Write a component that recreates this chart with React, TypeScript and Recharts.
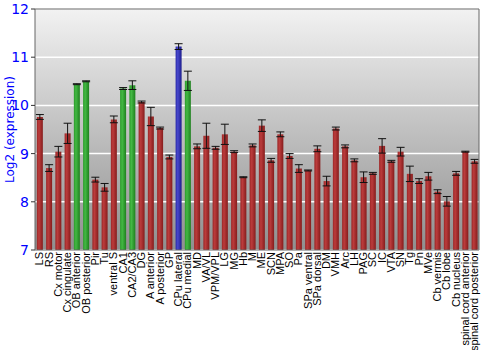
import { BarChart, Bar, XAxis, YAxis, CartesianGrid, ErrorBar, Cell, ReferenceLine } from 'recharts';

const regions = [
  'LS', 'RS', 'Cx motor', 'Cx cingulate', 'OB anterior', 'OB posterior', 'Pir', 'Tu',
  'ventral S', 'CA1', 'CA2/CA3', 'DG', 'A anterior', 'A posterior', 'GP', 'CPu lateral',
  'CPu medial', 'MD', 'VA/VL', 'VPM/VPL', 'LG', 'MG', 'Hb', 'M', 'ME', 'SCN', 'MPA', 'SO',
  'Pa', 'SPa ventral', 'SPa dorsal', 'DM', 'VMH', 'Arc', 'LH', 'PAG', 'SC', 'IC', 'VTA',
  'SN', 'Tg', 'Pn', 'MVe', 'Cb vermis', 'Cb lobe', 'Cb nucleus', 'spinal cord anterior',
  'spinal cord posterior',
];

const expression = [
  9.76, 8.70, 9.04, 9.42, 10.44, 10.50, 8.46, 8.30, 9.71, 10.35, 10.42, 10.07, 9.77, 9.53,
  8.93, 11.22, 10.51, 9.15, 9.37, 9.12, 9.40, 9.04, 8.51, 9.17, 9.58, 8.86, 9.40, 8.95,
  8.69, 8.65, 9.10, 8.43, 9.52, 9.15, 8.86, 8.51, 8.59, 9.16, 8.84, 9.04, 8.58, 8.43,
  8.53, 8.21, 8.01, 8.59, 9.04, 8.84,
];

const stdErr = [
  0.05, 0.07, 0.11, 0.21, 0.01, 0.01, 0.05, 0.08, 0.07, 0.02, 0.09, 0.02, 0.19, 0.02,
  0.04, 0.06, 0.2, 0.05, 0.26, 0.03, 0.21, 0.02, 0.01, 0.03, 0.12, 0.04, 0.05, 0.05,
  0.08, 0.01, 0.06, 0.1, 0.03, 0.03, 0.03, 0.11, 0.02, 0.15, 0.02, 0.09, 0.16, 0.05,
  0.08, 0.04, 0.1, 0.04, 0.01, 0.04,
];

// group per region: r = red, g = green, b = blue
const groups = [
  'r', 'r', 'r', 'r', 'g', 'g', 'r', 'r', 'r', 'g', 'g', 'r', 'r', 'r', 'r', 'b',
  'g', 'r', 'r', 'r', 'r', 'r', 'r', 'r', 'r', 'r', 'r', 'r', 'r', 'r', 'r', 'r',
  'r', 'r', 'r', 'r', 'r', 'r', 'r', 'r', 'r', 'r', 'r', 'r', 'r', 'r', 'r', 'r',
];

const yTicks = [7, 8, 9, 10, 11, 12];

const data = regions.map((name, i) => ({
  name,
  value: expression[i],
  err: stdErr[i],
  group: groups[i],
}));

const fills: Record<string, string> = { r: 'url(#barRed)', g: 'url(#barGreen)', b: 'url(#barBlue)' };

const tickStyle = { fill: '#0000ff', fontSize: 14, fontFamily: 'DejaVu Sans' };

export default function App() {
  return (
    <div style={{ position: 'absolute', left: 0, top: 0, background: '#fff' }}>
      <BarChart
        width={500}
        height={350}
        data={data}
        margin={{ top: 9, right: 0, bottom: 0, left: 0 }}
        barCategoryGap="20%"
      >
        <defs>
          <linearGradient id="bg" x1="0" y1="0" x2="0" y2="1">
            <stop offset="0%" stopColor="#f2f2f2" />
            <stop offset="100%" stopColor="#8f8f8f" />
          </linearGradient>
          <linearGradient id="barRed" x1="0" y1="0" x2="1" y2="0">
            <stop offset="0%" stopColor="#9c2626" />
            <stop offset="35%" stopColor="#bb3c3c" />
            <stop offset="100%" stopColor="#861c1c" />
          </linearGradient>
          <linearGradient id="barGreen" x1="0" y1="0" x2="1" y2="0">
            <stop offset="0%" stopColor="#2a9a2a" />
            <stop offset="35%" stopColor="#44b844" />
            <stop offset="100%" stopColor="#1e801e" />
          </linearGradient>
          <linearGradient id="barBlue" x1="0" y1="0" x2="1" y2="0">
            <stop offset="0%" stopColor="#2828a8" />
            <stop offset="35%" stopColor="#4848cc" />
            <stop offset="100%" stopColor="#1c1c8c" />
          </linearGradient>
        </defs>
        <CartesianGrid
          yAxisId="left"
          vertical={false}
          stroke="#ffffff"
          strokeWidth={1.5}
          fill="url(#bg)"
          fillOpacity={1}
        />
        <XAxis
          dataKey="name"
          interval={0}
          height={100}
          tickLine={false}
          axisLine={{ stroke: '#666' }}
          angle={-90}
          textAnchor="end"
          dx={-4}
          dy={-6}
          tick={{ fill: '#000', fontSize: 11, fontFamily: 'Liberation Sans' }}
        />
        <YAxis
          yAxisId="left"
          width={35}
          domain={[7, 12]}
          ticks={yTicks}
          allowDataOverflow
          axisLine={{ stroke: '#666' }}
          tickLine={{ stroke: '#333' }}
          tickSize={4}
          tick={tickStyle}
          label={{
            value: 'Log2 (expression)',
            angle: -90,
            position: 'insideLeft',
            offset: 10,
            style: { fill: '#0000ff', fontSize: 12, fontFamily: 'DejaVu Sans', textAnchor: 'middle' },
          }}
        />
        <YAxis
          yAxisId="right"
          orientation="right"
          width={21}
          domain={[7, 12]}
          ticks={yTicks}
          axisLine={{ stroke: '#666' }}
          tickLine={{ stroke: '#333' }}
          tickSize={4}
          tick={tickStyle}
        />
        <ReferenceLine yAxisId="left" y={12} stroke="#666" />
        <Bar yAxisId="left" dataKey="value" isAnimationActive={false}>
          {data.map((d) => (
            <Cell key={d.name} fill={fills[d.group]} />
          ))}
          <ErrorBar dataKey="err" width={4} stroke="#111" strokeWidth={1} direction="y" />
        </Bar>
      </BarChart>
    </div>
  );
}
